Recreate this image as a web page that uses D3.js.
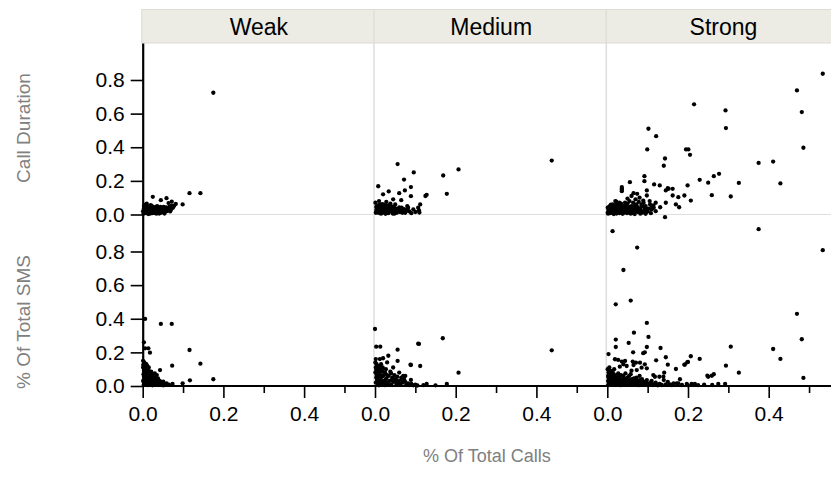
<!DOCTYPE html>
<html>
<head>
<meta charset="utf-8">
<script src="https://cdn.jsdelivr.net/npm/d3@7"></script>
<style>
  body { margin: 0; background: #fff; }
  text { font-family: "Liberation Sans", Arial, Helvetica, sans-serif; }
</style>
</head>
<body>
<div id="chart-area"></div>
<script>

// Data: [% of total calls, value]
var groups = ["Weak", "Medium", "Strong"];
var rowTitles = ["Call Duration", "% Of Total SMS"];
var xTitle = "% Of Total Calls";
var yTicks = [0, 0.2, 0.4, 0.6, 0.8];
var xTicks = [0, 0.2, 0.4];
var xMinorTicks = [0.1, 0.3, 0.5];

var weakDur = [[0.175,0.724],[0.116,0.127],[0.143,0.127],[0.099,0.060],[0.072,0.077],[0.059,0.097],[0.025,0.105],[0.072,0.052],
  [0.010,0.064],[0.045,0.085],[0.064,0.068],[0.052,0.045],[0.002,0.005],[0.004,0.012],[0.006,0.02],[0.008,0.03],[0.01,0.04],
  [0.012,0.05],[0.003,0.035],[0.005,0.045],[0.015,0.01],[0.018,0.022],[0.02,0.015],[0.022,0.03],[0.025,0.008],[0.028,0.02],
  [0.03,0.035],[0.032,0.012],[0.035,0.025],[0.038,0.04],[0.04,0.018],[0.042,0.03],[0.045,0.01],[0.048,0.035],[0.05,0.022],
  [0.053,0.015],[0.056,0.03],[0.06,0.02],[0.065,0.035],[0.07,0.028],[0.016,0.045],[0.024,0.048],[0.014,0.003],[0.034,0.005],
  [0.001,0.02],[0.008,0.008],[0.02,0.055],[0.036,0.05],[0.012,0.025],[0.028,0.042],[0.044,0.045],[0.058,0.042],
  [0.003,0.05],[0.007,0.058],[0.011,0.015],[0.013,0.038],[0.017,0.032],[0.019,0.006],[0.021,0.042],[0.023,0.022],[0.026,0.035],
  [0.029,0.01],[0.031,0.026],[0.033,0.045],[0.037,0.015],[0.039,0.032],[0.041,0.006],[0.043,0.022],[0.046,0.04],[0.049,0.014],
  [0.051,0.032],[0.054,0.006],[0.057,0.022],[0.062,0.03],[0.066,0.045],[0.068,0.018],[0.075,0.04],[0.078,0.052],[0.082,0.063]];

var weakSms = [[0.006,0.399],[0.045,0.369],[0.072,0.369],[0.116,0.214],[0.143,0.133],[0.073,0.121],[0.175,0.040],[0.117,0.034],
  [0.099,0.016],[0.074,0.012],[0.003,0.26],[0.006,0.224],[0.014,0.224],[0.018,0.198],[0.043,0.095],[0.021,0.085],[0.030,0.075],
  [0.035,0.065],[0.051,0.026],[0.059,0.016],[0.065,0.008],[0.001,0.15],[0.002,0.13],[0.001,0.11],[0.003,0.09],[0.002,0.07],
  [0.004,0.05],[0.001,0.03],[0.003,0.01],[0.006,0.12],[0.005,0.1],[0.007,0.08],[0.008,0.06],[0.006,0.04],[0.009,0.02],
  [0.01,0.1],[0.012,0.07],[0.011,0.045],[0.014,0.03],[0.016,0.08],[0.018,0.055],[0.02,0.04],[0.022,0.02],[0.025,0.06],
  [0.028,0.035],[0.03,0.015],[0.035,0.03],[0.038,0.045],[0.04,0.012],[0.045,0.025],[0.048,0.005],[0.055,0.01],[0.013,0.005],
  [0.024,0.004],[0.004,0.14],[0.015,0.11],[0.009,0.13],
  [0.002,0.12],[0.003,0.06],[0.004,0.025],[0.005,0.08],[0.007,0.11],[0.008,0.045],[0.01,0.075],[0.011,0.12],[0.012,0.01],
  [0.013,0.055],[0.015,0.09],[0.016,0.04],[0.017,0.015],[0.019,0.07],[0.021,0.05],[0.023,0.065],[0.024,0.03],[0.026,0.045],
  [0.027,0.015],[0.03,0.05],[0.032,0.025],[0.034,0.008],[0.036,0.04],[0.042,0.03],[0.044,0.012],[0.05,0.018],[0.052,0.004]];

var mediumDur = [[0.438,0.321],[0.207,0.268],[0.169,0.232],[0.178,0.123],[0.128,0.117],[0.125,0.11],[0.096,0.25],[0.089,0.163],
  [0.089,0.109],[0.072,0.208],[0.074,0.143],[0.056,0.30],[0.008,0.168],[0.034,0.137],[0.06,0.127],[0.112,0.06],[0.107,0.04],
  [0.109,0.024],[0.045,0.09],[0.02,0.12],[0.028,0.075],[0.065,0.085],[0.08,0.05],[0.05,0.06],[0.002,0.01],[0.004,0.03],
  [0.006,0.05],[0.008,0.02],[0.01,0.04],[0.012,0.008],[0.014,0.06],[0.016,0.025],[0.018,0.045],[0.02,0.012],[0.022,0.035],
  [0.025,0.055],[0.028,0.02],[0.03,0.04],[0.033,0.008],[0.036,0.03],[0.04,0.05],[0.043,0.015],[0.046,0.035],[0.05,0.025],
  [0.054,0.01],[0.058,0.03],[0.062,0.015],[0.066,0.04],[0.07,0.02],[0.075,0.01],[0.08,0.03],[0.001,0.07],[0.003,0.045],
  [0.026,0.004],[0.048,0.005],[0.01,0.08],[0.038,0.065],[0.085,0.018],[0.09,0.008],
  [0.003,0.02],[0.005,0.04],[0.007,0.012],[0.009,0.055],[0.011,0.028],[0.013,0.046],[0.015,0.005],[0.017,0.035],[0.019,0.062],
  [0.021,0.024],[0.024,0.044],[0.027,0.012],[0.029,0.03],[0.032,0.052],[0.035,0.018],[0.038,0.04],[0.041,0.028],[0.044,0.006],
  [0.047,0.045],[0.052,0.035],[0.056,0.018],[0.06,0.042],[0.064,0.028],[0.068,0.01],[0.072,0.032],[0.078,0.022],[0.082,0.04],
  [0.095,0.03],[0.1,0.015],[0.11,0.012]];

var mediumSms = [[0.438,0.212],[0.168,0.284],[0.109,0.25],[0.207,0.079],[0.089,0.125],[0.112,0.119],[0.089,0.036],[0.128,0.012],
  [0.178,0.012],[0.0,0.339],[0.003,0.234],[0.013,0.234],[0.056,0.216],[0.033,0.18],[0.107,0.252],[0.056,0.149],[0.088,0.127],
  [0.012,0.16],[0.02,0.165],[0.03,0.14],[0.045,0.11],[0.06,0.08],[0.075,0.06],[0.015,0.13],[0.001,0.14],[0.002,0.11],
  [0.001,0.08],[0.003,0.05],[0.002,0.02],[0.005,0.12],[0.006,0.09],[0.007,0.06],[0.008,0.03],[0.009,0.01],[0.011,0.1],
  [0.012,0.07],[0.014,0.04],[0.016,0.015],[0.018,0.09],[0.02,0.06],[0.022,0.03],[0.025,0.08],[0.028,0.045],[0.03,0.02],
  [0.034,0.06],[0.036,0.03],[0.04,0.01],[0.043,0.05],[0.046,0.025],[0.05,0.04],[0.053,0.012],[0.058,0.03],[0.062,0.008],
  [0.068,0.02],[0.072,0.04],[0.078,0.01],[0.085,0.005],[0.095,0.004],[0.105,0.003],[0.04,0.075],[0.065,0.05],[0.01,0.004],
  [0.024,0.005],
  [0.002,0.16],[0.004,0.13],[0.003,0.095],[0.004,0.065],[0.005,0.035],[0.006,0.015],[0.007,0.105],[0.009,0.075],[0.01,0.045],
  [0.012,0.12],[0.013,0.025],[0.015,0.085],[0.017,0.055],[0.019,0.11],[0.021,0.015],[0.023,0.07],[0.026,0.035],[0.027,0.1],
  [0.03,0.065],[0.032,0.008],[0.038,0.085],[0.041,0.035],[0.048,0.065],[0.052,0.025],[0.055,0.055],[0.06,0.015],[0.066,0.035],
  [0.07,0.06],[0.075,0.025],[0.082,0.015],[0.09,0.012],[0.1,0.008],[0.12,0.005],[0.15,0.004]];

var strongDur = [[0.534,0.837],[0.470,0.738],[0.482,0.609],[0.486,0.397],[0.215,0.655],[0.293,0.619],[0.294,0.514],[0.102,0.510],
  [0.121,0.466],[0.099,0.387],[0.195,0.387],[0.201,0.387],[0.205,0.355],[0.143,0.333],[0.140,0.29],[0.375,0.307],[0.411,0.315],
  [0.429,0.185],[0.326,0.188],[0.306,0.107],[0.259,0.115],[0.277,0.242],[0.264,0.228],[0.25,0.189],[0.229,0.206],[0.199,0.173],
  [0.207,0.083],[0.191,0.113],[0.176,0.103],[0.170,0.06],[0.178,0.043],[0.162,0.153],[0.152,0.153],[0.145,0.143],[0.162,0.113],
  [0.130,0.173],[0.116,0.179],[0.092,0.228],[0.092,0.198],[0.056,0.192],[0.036,0.153],[0.036,0.139],[0.065,0.127],[0.074,0.123],
  [0.098,0.143],[0.098,0.113],[0.089,0.083],[0.098,0.034],[0.131,0.043],[0.114,0.054],[0.150,0.157],[0.145,0.07],[0.022,0.077],
  [0.036,0.163],[0.036,0.147],[0.08,0.1],[0.07,0.09],[0.06,0.11],[0.05,0.095],[0.085,0.06],[0.12,0.07],[0.105,0.08],[0.11,0.03],
  [0.002,0.005],[0.005,0.015],[0.008,0.03],[0.01,0.045],[0.012,0.01],[0.015,0.025],[0.018,0.04],[0.02,0.055],[0.022,0.015],
  [0.025,0.03],[0.028,0.045],[0.03,0.008],[0.033,0.02],[0.036,0.035],[0.04,0.05],[0.042,0.012],[0.045,0.028],[0.048,0.042],
  [0.05,0.065],[0.053,0.018],[0.056,0.035],[0.06,0.05],[0.062,0.01],[0.066,0.025],[0.07,0.04],[0.072,0.06],[0.076,0.015],
  [0.08,0.03],[0.084,0.045],[0.088,0.012],[0.092,0.025],[0.095,0.05],[0.1,0.02],[0.004,0.035],[0.006,0.05],[0.014,0.06],
  [0.026,0.06],[0.038,0.004],[0.058,0.005],[0.016,0.003],[0.003,0.02],[0.001,0.04],[0.009,0.058],[0.034,0.065],[0.044,0.07],
  [0.064,0.07],[0.078,0.075],[0.09,0.07],[0.106,0.06],[0.115,0.04],[0.12,0.02],[0.068,0.003],[0.082,0.005],[0.095,0.004],
  [0.108,0.008],
  [0.001,0.01],[0.003,0.028],[0.005,0.045],[0.007,0.008],[0.009,0.022],[0.011,0.036],[0.013,0.052],[0.017,0.018],[0.019,0.03],
  [0.021,0.045],[0.023,0.006],[0.027,0.025],[0.029,0.038],[0.031,0.016],[0.035,0.05],[0.037,0.028],[0.039,0.012],[0.041,0.038],
  [0.044,0.02],[0.047,0.055],[0.049,0.008],[0.052,0.03],[0.055,0.045],[0.058,0.02],[0.061,0.035],[0.064,0.008],[0.068,0.05],
  [0.071,0.022],[0.074,0.045],[0.077,0.035],[0.083,0.025],[0.086,0.055],[0.093,0.04],[0.097,0.015],[0.103,0.035],[0.11,0.05],
  [0.03,0.07],[0.055,0.08],[0.02,0.08]];

var strongSms = [[0.143,1.004],[0.375,0.933],[0.534,0.808],[0.013,0.921],[0.074,0.823],[0.040,0.690],[0.058,0.508],[0.021,0.486],
  [0.470,0.429],[0.098,0.375],[0.482,0.278],[0.486,0.048],[0.411,0.220],[0.429,0.161],[0.306,0.234],[0.294,0.121],[0.326,0.079],
  [0.259,0.061],[0.250,0.055],[0.264,0.07],[0.229,0.161],[0.207,0.177],[0.200,0.143],[0.191,0.127],[0.170,0.101],[0.145,0.171],
  [0.150,0.127],[0.141,0.079],[0.132,0.226],[0.121,0.153],[0.102,0.292],[0.098,0.232],[0.066,0.317],[0.053,0.256],[0.021,0.276],
  [0.021,0.232],[0.003,0.19],[0.064,0.2],[0.089,0.195],[0.093,0.2],[0.063,0.145],[0.071,0.139],[0.065,0.125],[0.081,0.139],
  [0.093,0.129],[0.085,0.109],[0.098,0.105],[0.019,0.159],[0.027,0.155],[0.036,0.145],[0.044,0.149],[0.04,0.129],[0.031,0.115],
  [0.048,0.119],[0.06,0.091],[0.073,0.095],[0.129,0.055],[0.139,0.055],[0.114,0.065],[0.118,0.055],[0.18,0.04],[0.172,0.016],
  [0.192,0.127],[0.198,0.141],[0.248,0.061],[0.164,0.016],[0.176,0.016],[0.197,0.012],[0.209,0.012],[0.217,0.012],[0.275,0.012],
  [0.292,0.012],[0.089,0.022],[0.098,0.016],[0.071,0.026],[0.002,0.005],[0.004,0.02],[0.006,0.04],[0.008,0.06],[0.003,0.08],
  [0.001,0.1],[0.01,0.015],[0.012,0.03],[0.014,0.05],[0.016,0.07],[0.018,0.008],[0.02,0.025],[0.022,0.045],[0.024,0.065],
  [0.026,0.012],[0.028,0.035],[0.03,0.055],[0.033,0.005],[0.035,0.02],[0.038,0.04],[0.04,0.06],[0.043,0.01],[0.046,0.03],
  [0.05,0.05],[0.053,0.015],[0.056,0.035],[0.06,0.008],[0.063,0.025],[0.066,0.045],[0.07,0.012],[0.074,0.03],[0.078,0.005],
  [0.082,0.02],[0.086,0.04],[0.09,0.01],[0.095,0.025],[0.1,0.005],[0.105,0.015],[0.11,0.03],[0.115,0.008],[0.12,0.02],
  [0.125,0.004],[0.13,0.012],[0.135,0.006],[0.009,0.09],[0.017,0.1],[0.005,0.11],[0.045,0.075],[0.058,0.07],[0.08,0.06],
  [0.002,0.06],[0.007,0.075],[0.155,0.01],[0.15,0.025],[0.14,0.035],[0.24,0.008],[0.26,0.006],
  [0.002,0.03],[0.003,0.05],[0.004,0.09],[0.005,0.07],[0.006,0.012],[0.007,0.03],[0.009,0.05],[0.011,0.07],[0.013,0.085],
  [0.015,0.02],[0.017,0.04],[0.019,0.06],[0.021,0.012],[0.023,0.03],[0.025,0.05],[0.027,0.075],[0.029,0.02],[0.031,0.04],
  [0.034,0.065],[0.036,0.01],[0.039,0.025],[0.042,0.045],[0.045,0.015],[0.048,0.04],[0.051,0.025],[0.054,0.06],[0.057,0.012],
  [0.061,0.04],[0.065,0.018],[0.068,0.03],[0.072,0.05],[0.076,0.018],[0.08,0.035],[0.084,0.01],[0.088,0.028],[0.093,0.012],
  [0.098,0.035],[0.102,0.01],[0.108,0.022],[0.113,0.006],[0.118,0.012],[0.128,0.008],[0.145,0.01],[0.16,0.005],[0.185,0.006],
  [0.2,0.004],[0.225,0.005]];

var panelData = [[weakDur, weakSms], [mediumDur, mediumSms], [strongDur, strongSms]];

// Layout
var W = 831, H = 487;
var plotLeft = 142.7, plotTop = 43, stripTop = 9.5;
var panelW = 232.3, rowH = 171.5;

var svg = d3.select("#chart-area").append("svg")
    .attr("width", W)
    .attr("height", H);

var xScales = groups.map(function(g, i) {
    var x0 = plotLeft + i * panelW;
    return d3.scaleLinear().domain([0, 0.5757]).range([x0, x0 + panelW]);
});
var yScales = rowTitles.map(function(t, j) {
    return d3.scaleLinear().domain([0, 1.02]).range([plotTop + (j + 1) * rowH, plotTop + j * rowH]);
});

// strip headers
var strip = svg.selectAll(".strip")
    .data(groups)
    .enter()
    .append("g")
    .attr("class", "strip");

strip.append("rect")
    .attr("x", function(d, i) { return plotLeft - 1 + i * panelW; })
    .attr("y", stripTop)
    .attr("width", panelW)
    .attr("height", plotTop - stripTop)
    .attr("fill", "#ecebe4")
    .attr("stroke", "#dddcd5")
    .attr("stroke-width", 1);

strip.append("text")
    .attr("x", function(d, i) { return plotLeft + i * panelW + panelW / 2; })
    .attr("y", 35)
    .attr("text-anchor", "middle")
    .attr("font-size", 23)
    .attr("fill", "#000")
    .text(function(d) { return d; });

// panel borders
svg.append("line")
    .attr("x1", plotLeft).attr("x2", W)
    .attr("y1", plotTop + rowH).attr("y2", plotTop + rowH)
    .attr("stroke", "#dedede").attr("stroke-width", 1);

[1, 2].forEach(function(i) {
    svg.append("line")
        .attr("x1", plotLeft - 1 + i * panelW).attr("x2", plotLeft - 1 + i * panelW)
        .attr("y1", plotTop).attr("y2", plotTop + 2 * rowH)
        .attr("stroke", "#dedede").attr("stroke-width", 1.5);
});

// points
panelData.forEach(function(rows, i) {
    rows.forEach(function(pts, j) {
        svg.append("g").selectAll("circle")
            .data(pts)
            .enter()
            .append("circle")
            .attr("cx", function(d) { return xScales[i](d[0]); })
            .attr("cy", function(d) { return yScales[j](d[1]); })
            .attr("r", 2.15)
            .attr("fill", "#000");
    });
});

// y axes
yScales.forEach(function(y, j) {
    var g = svg.append("g")
        .attr("transform", "translate(" + plotLeft + ",0)")
        .call(d3.axisLeft(y).tickValues(yTicks).tickFormat(d3.format(".1f"))
            .tickSize(12).tickSizeOuter(0).tickPadding(6));
    g.select(".domain").attr("stroke-width", 2.2);
    g.selectAll(".tick line").attr("stroke-width", 1.6);
    g.selectAll(".tick text").attr("font-size", 21).attr("fill", "#000")
        .attr("font-family", "Liberation Sans, Arial, sans-serif");
});

// x axes
xScales.forEach(function(x, i) {
    var g = svg.append("g")
        .attr("transform", "translate(0," + (plotTop + 2 * rowH) + ")")
        .call(d3.axisBottom(x).tickValues(xTicks).tickFormat(d3.format(".1f"))
            .tickSize(12).tickSizeOuter(0).tickPadding(8));
    g.select(".domain").remove();
    g.selectAll(".tick line").attr("stroke-width", 1.6);
    g.selectAll(".tick text").attr("font-size", 21).attr("fill", "#000")
        .attr("font-family", "Liberation Sans, Arial, sans-serif");

    var m = svg.append("g")
        .attr("transform", "translate(0," + (plotTop + 2 * rowH) + ")")
        .call(d3.axisBottom(x).tickValues(xMinorTicks).tickFormat("")
            .tickSize(7).tickSizeOuter(0));
    m.select(".domain").remove();
    m.selectAll(".tick line").attr("stroke-width", 1.6);
});

svg.append("line")
    .attr("x1", plotLeft - 1).attr("x2", W)
    .attr("y1", plotTop + 2 * rowH).attr("y2", plotTop + 2 * rowH)
    .attr("stroke", "#000").attr("stroke-width", 2.2);

// axis titles
var titleY = [128, 322];
rowTitles.forEach(function(t, j) {
    svg.append("text")
        .attr("transform", "translate(30," + titleY[j] + ") rotate(-90)")
        .attr("text-anchor", "middle")
        .attr("font-size", 19)
        .attr("fill", "#808080")
        .text(t);
});

svg.append("text")
    .attr("x", plotLeft + (W - plotLeft) / 2)
    .attr("y", 462)
    .attr("text-anchor", "middle")
    .attr("font-size", 18)
    .attr("fill", "#808080")
    .text(xTitle);

</script>
</body>
</html>
